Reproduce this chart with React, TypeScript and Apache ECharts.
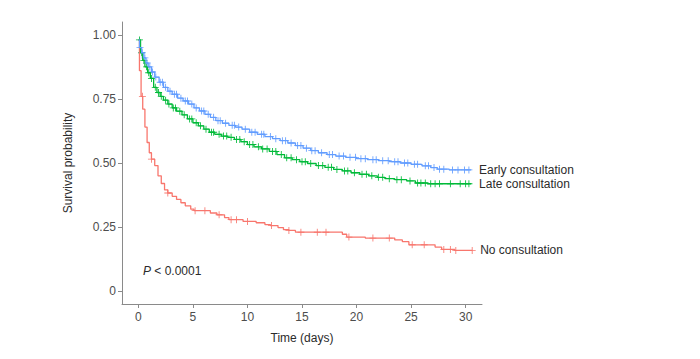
import React, { useEffect, useRef } from "react";
import * as echarts from "echarts";

const xTicks = [0, 5, 10, 15, 20, 25, 30];
const yTicks = [0, 0.25, 0.5, 0.75, 1];

const earlyName = "Early consultation";
const lateName = "Late consultation";
const noneName = "No consultation";

const earlyTimes = [0, 0.1, 0.3, 0.5, 0.7, 0.9, 1.2, 1.5, 1.9, 2.3, 2.7, 3.1, 3.6, 4.1, 4.6, 5.1, 5.6, 6.1, 6.6, 7.1, 7.7, 8.3, 8.9, 9.5, 10.2, 10.9, 11.6, 12.3, 13.0, 13.7, 14.4, 15.1, 15.8, 16.5, 17.3, 18.1, 19.0, 20.0, 21.0, 22.0, 23.0, 24.0, 25.0, 26.0, 26.8, 27.4, 28.5, 30.5];
const earlySurv = [0.98, 0.95, 0.93, 0.91, 0.89, 0.875, 0.855, 0.835, 0.815, 0.795, 0.78, 0.768, 0.753, 0.742, 0.73, 0.715, 0.703, 0.69, 0.678, 0.665, 0.655, 0.647, 0.64, 0.632, 0.62, 0.612, 0.603, 0.595, 0.587, 0.578, 0.568, 0.558, 0.548, 0.54, 0.533, 0.527, 0.522, 0.517, 0.513, 0.509, 0.505, 0.5, 0.495, 0.489, 0.482, 0.476, 0.473, 0.473];

const lateTimes = [0, 0.2, 0.4, 0.6, 0.85, 1.1, 1.4, 1.7, 2.0, 2.3, 2.7, 3.1, 3.5, 4.0, 4.5, 5.0, 5.5, 6.0, 6.5, 7.0, 7.6, 8.2, 8.8, 9.4, 10.0, 10.6, 11.3, 12.0, 12.7, 13.4, 14.1, 14.8, 15.5, 16.3, 17.1, 17.9, 18.7, 19.5, 20.3, 21.1, 21.9, 22.6, 23.5, 24.6, 25.4, 26.5, 30.5];
const lateSurv = [0.98, 0.93, 0.9, 0.875, 0.852, 0.83, 0.795, 0.775, 0.76, 0.745, 0.73, 0.715, 0.702, 0.688, 0.672, 0.657, 0.645, 0.632, 0.62, 0.612, 0.605, 0.6, 0.592, 0.583, 0.572, 0.563, 0.555, 0.545, 0.533, 0.52, 0.513, 0.505, 0.498, 0.49, 0.483, 0.475, 0.469, 0.462, 0.456, 0.45, 0.444, 0.439, 0.435, 0.43, 0.422, 0.419, 0.418];

const noneTimes = [0, 0.1, 0.25, 0.4, 0.6, 0.8, 1.0, 1.2, 1.5, 1.8, 2.1, 2.4, 2.7, 3.1, 3.5, 3.9, 4.3, 4.8, 5.1, 6.6, 7.2, 7.9, 8.3, 9.6, 10.8, 11.6, 12.1, 12.8, 13.3, 13.8, 14.4, 18.7, 19.1, 20.8, 23.5, 24.2, 24.8, 27.2, 27.8, 29.0, 30.6];
const noneSurv = [0.98, 0.86, 0.76, 0.71, 0.64, 0.58, 0.54, 0.515, 0.49, 0.45, 0.42, 0.395, 0.383, 0.37, 0.358, 0.345, 0.333, 0.32, 0.314, 0.305, 0.298, 0.287, 0.279, 0.272, 0.267, 0.26, 0.256, 0.248, 0.24, 0.237, 0.23, 0.222, 0.211, 0.207, 0.2, 0.193, 0.181, 0.172, 0.163, 0.159, 0.159];

const earlyCensor = [0.15, 0.35, 0.6, 0.8, 1.05, 1.3, 1.6, 2.0, 2.2, 2.5, 2.9, 3.3, 3.5, 3.9, 4.3, 4.5, 4.9, 5.3, 5.8, 6.0, 6.4, 6.9, 7.3, 7.5, 8.0, 8.6, 8.8, 9.2, 9.8, 10.4, 10.7, 11.3, 11.5, 12.1, 12.6, 13.2, 13.5, 14.0, 14.6, 14.9, 15.4, 15.9, 16.2, 16.8, 17.5, 17.8, 18.4, 18.8, 19.4, 19.9, 20.4, 20.8, 21.5, 21.8, 22.4, 22.9, 23.5, 23.8, 24.4, 24.7, 25.3, 25.6, 26.3, 26.6, 27.1, 27.6, 28.0, 28.8, 29.3, 29.9, 30.3];
const lateCensor = [0.1, 0.3, 0.5, 0.75, 0.95, 1.2, 1.55, 1.85, 2.1, 2.5, 2.8, 3.2, 3.4, 3.8, 4.2, 4.7, 4.9, 5.3, 5.7, 6.2, 6.7, 6.9, 7.4, 7.8, 8.1, 8.5, 9.0, 9.3, 9.7, 10.2, 10.5, 11.0, 11.4, 11.8, 12.3, 12.6, 13.1, 13.6, 14.0, 14.5, 15.0, 15.3, 15.8, 16.5, 16.9, 17.4, 17.7, 18.2, 18.9, 19.2, 19.8, 20.5, 20.9, 21.4, 22.0, 22.4, 23.0, 23.7, 24.1, 24.9, 25.6, 25.9, 26.3, 26.8, 27.2, 27.6, 28.6, 29.5, 30.0, 30.3];
const noneCensor = [0.37, 1.2, 2.7, 5.2, 6.1, 7.4, 8.5, 9.0, 10.0, 12.2, 13.8, 14.9, 16.4, 17.2, 19.3, 21.5, 23.0, 25.1, 26.2, 28.0, 28.6, 29.1, 30.6];

const BLUE = "#619CFF";
const GREEN = "#00BA38";
const RED = "#F8766D";
const FONT = "Liberation Sans, Arial, sans-serif";
const CROSS = "path://M0,4.4H10V5.6H0Z M4.4,0H5.6V10H4.4Z";

function survAt(times: number[], vals: number[], t: number): number {
  let v = vals[0];
  for (let i = 0; i < times.length; i++) {
    if (times[i] <= t) v = vals[i];
    else break;
  }
  return v;
}

function pairs(times: number[], vals: number[]) {
  return times.map((t, i) => [t, vals[i]]);
}

function censorPts(cs: number[], times: number[], vals: number[]) {
  return cs.map((t) => [t, survAt(times, vals, t)]);
}

function lineSeries(name: string, color: string, times: number[], vals: number[]) {
  return {
    name,
    type: "line",
    step: "end",
    data: pairs(times, vals),
    showSymbol: false,
    symbol: "none",
    lineStyle: { color, width: 1.3 },
    itemStyle: { color },
    silent: true,
    endLabel: {
      show: true,
      formatter: name,
      distance: 8,
      color: "#2b2b2b",
      fontSize: 12,
      fontFamily: FONT,
    },
  };
}

function censorSeries(name: string, color: string, cs: number[], times: number[], vals: number[]) {
  return {
    name: name + " censor",
    type: "scatter",
    data: censorPts(cs, times, vals),
    symbol: CROSS,
    symbolSize: 7,
    itemStyle: { color, opacity: 1 },
    silent: true,
  };
}

export default function App() {
  const ref = useRef<HTMLDivElement>(null);
  useEffect(() => {
    if (!ref.current) return;
    const chart = echarts.init(ref.current, null, { renderer: "svg" });
    const axisColor = "#8a8a8a";
    const labelColor = "#4d4d4d";
    chart.setOption({
      animation: false,
      backgroundColor: "#ffffff",
      grid: { left: 122, right: 218, top: 22, bottom: 55, containLabel: false },
      xAxis: {
        type: "value",
        min: -1.5,
        max: 31.5,
        name: "Time (days)",
        nameLocation: "middle",
        nameGap: 28,
        nameTextStyle: { color: "#2b2b2b", fontSize: 12, fontFamily: FONT },
        axisLine: { onZero: false, lineStyle: { color: axisColor, width: 1 } },
        axisTick: { show: true, length: 4, customValues: xTicks, lineStyle: { color: axisColor } },
        axisLabel: { customValues: xTicks, color: labelColor, fontSize: 12, fontFamily: FONT, margin: 7 },
        splitLine: { show: false },
      },
      yAxis: {
        type: "value",
        min: -0.05,
        max: 1.05,
        name: "Survival probability",
        nameLocation: "middle",
        nameGap: 48,
        nameTextStyle: { color: "#2b2b2b", fontSize: 12, fontFamily: FONT },
        axisLine: { show: true, onZero: false, lineStyle: { color: axisColor, width: 1 } },
        axisTick: { show: true, length: 4, customValues: yTicks, lineStyle: { color: axisColor } },
        axisLabel: {
          customValues: yTicks,
          color: labelColor,
          fontSize: 12,
          fontFamily: FONT,
          margin: 6,
          formatter: (v: number) => (v === 0 ? "0" : v.toFixed(2)),
        },
        splitLine: { show: false },
      },
      graphic: [
        {
          type: "text",
          left: 143,
          top: 265,
          style: {
            text: "{i|P} < 0.0001",
            fontSize: 12,
            fontFamily: FONT,
            fill: "#2b2b2b",
            rich: { i: { fontStyle: "italic", fontSize: 12, fontFamily: FONT, fill: "#2b2b2b" } },
          },
        },
      ],
      series: [
        lineSeries(noneName, RED, noneTimes, noneSurv),
        lineSeries(lateName, GREEN, lateTimes, lateSurv),
        lineSeries(earlyName, BLUE, earlyTimes, earlySurv),
        censorSeries(noneName, RED, noneCensor, noneTimes, noneSurv),
        censorSeries(lateName, GREEN, lateCensor, lateTimes, lateSurv),
        censorSeries(earlyName, BLUE, earlyCensor, earlyTimes, earlySurv),
      ],
    });
    return () => chart.dispose();
  }, []);
  return (
    <div
      ref={ref}
      style={{ position: "fixed", left: 0, top: 0, width: 700, height: 359, background: "#fff" }}
    />
  );
}
